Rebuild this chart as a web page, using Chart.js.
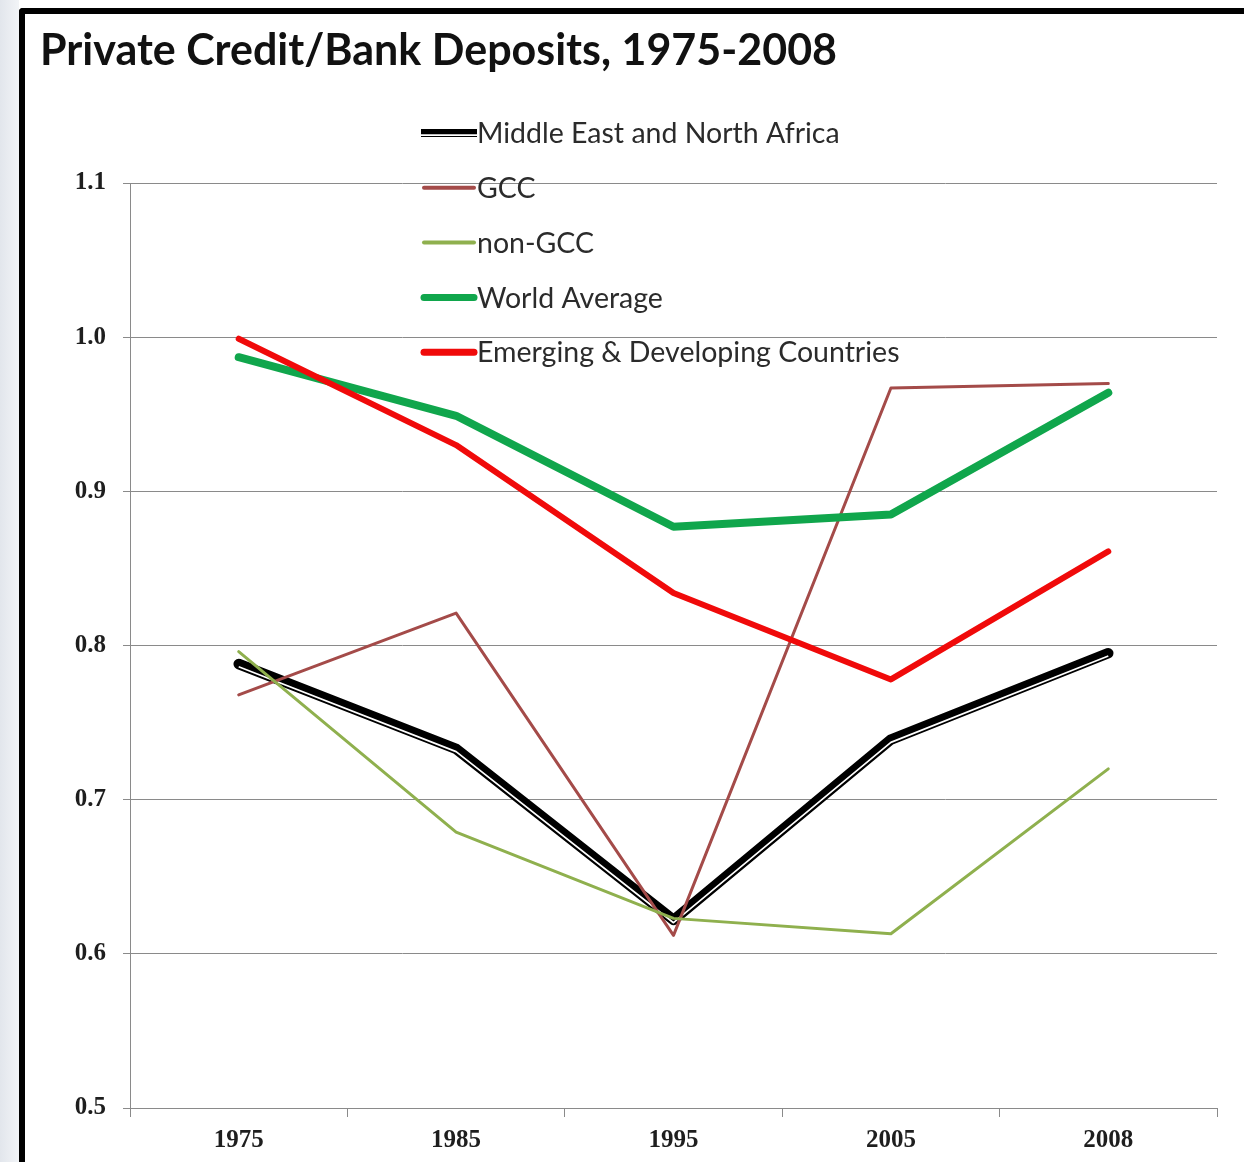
<!DOCTYPE html>
<html>
<head>
<meta charset="utf-8">
<title>Private Credit/Bank Deposits, 1975-2008</title>
<script src="https://cdn.jsdelivr.net/npm/chart.js@4.4.1/dist/chart.umd.min.js"></script>
<style>
  html, body { margin: 0; padding: 0; background: #fff; }
  body { width: 1244px; height: 1162px; position: relative; overflow: hidden; }
  .edge { position: absolute; left: 0; top: 0; width: 19px; height: 1162px; background: linear-gradient(to right, #e2e6ec, #f2f4f7); }
  .frame { position: absolute; left: 19px; top: 8px; width: 1400px; height: 1400px;
           border-top: 6px solid #000; border-left: 6px solid #000; border-top-left-radius: 4px; }
  #wrap { position: absolute; left: 0; top: 0; width: 1244px; height: 1162px; }
</style>
</head>
<body>
<div class="edge"></div>
<div class="frame"></div>
<div id="wrap"><canvas id="chart" width="1244" height="1162"></canvas></div>
<script>
// years on the x axis
const years = ['1975', '1985', '1995', '2005', '2008'];

// ratio of private credit to bank deposits
const mena     = [0.788, 0.733, 0.622, 0.739, 0.795];
const gcc      = [0.768, 0.821, 0.612, 0.967, 0.970];
const nonGcc   = [0.796, 0.679, 0.623, 0.613, 0.720];
const worldAvg = [0.987, 0.949, 0.877, 0.885, 0.964];
const emerging = [0.999, 0.930, 0.834, 0.778, 0.861];

const seriesNames = [
  'Middle East and North Africa',
  'GCC',
  'non-GCC',
  'World Average',
  'Emerging & Developing Countries'
];

const yMin = 0.5, yMax = 1.1, yStep = 0.1;
const chartTitle = 'Private Credit/Bank Deposits, 1975-2008';

const AXIS_GREY = '#8a8a8a';

// MENA is drawn as a "double" line: thick black with a thin white stripe near its lower edge
function strokeStripe(ctx, pts, dy) {
  ctx.save();
  ctx.strokeStyle = '#fff';
  ctx.lineWidth = 1.7;
  ctx.lineJoin = 'round';
  ctx.beginPath();
  pts.forEach((p, i) => i ? ctx.lineTo(p.x, p.y + dy) : ctx.moveTo(p.x, p.y + dy));
  ctx.stroke();
  ctx.restore();
}

const doubleLine = {
  id: 'doubleLine',
  afterDatasetDraw(chart, args) {
    const ds = chart.data.datasets[args.index];
    if (!ds.compound) return;
    const pts = args.meta.data.map(p => ({ x: p.x, y: p.y }));
    strokeStripe(chart.ctx, pts, 2.8);
  }
};

// title and the stacked legend inside the plot
const decorations = {
  id: 'decorations',
  afterDraw(chart) {
    const ctx = chart.ctx;
    ctx.save();
    ctx.fillStyle = '#111';
    ctx.font = 'bold 43px Lato';
    ctx.textBaseline = 'alphabetic';
    ctx.textAlign = 'left';
    ctx.fillText(chartTitle, 40, 65);

    ctx.font = '28.5px Lato';
    ctx.textBaseline = 'middle';
    chart.data.datasets.forEach((ds, i) => {
      const y = 133 + i * 54.8;
      ctx.strokeStyle = ds.borderColor;
      ctx.lineWidth = ds.legendWidth;
      ctx.lineCap = ds.compound ? 'butt' : 'round';
      ctx.beginPath();
      ctx.moveTo(ds.compound ? 421 : 424, y);
      ctx.lineTo(ds.compound ? 477 : 474, y);
      ctx.stroke();
      if (ds.compound) strokeStripe(ctx, [{ x: 421, y }, { x: 477, y }], 2.2);
      ctx.fillStyle = '#2b2b2b';
      ctx.fillText(ds.label, 477, y + 1);
    });
    ctx.restore();
  }
};

const seriesValues = [mena, gcc, nonGcc, worldAvg, emerging];
const colors = ['#000000', '#a44b49', '#8fb04e', '#10a64c', '#f00a0a'];
const widths = [10.5, 3, 3, 8, 6];
const legendWidths = [8, 4, 4, 7, 7];

const ctx = document.getElementById('chart').getContext('2d');
new Chart(ctx, {
  type: 'line',
  data: {
    labels: years,
    datasets: seriesValues.map((vals, i) => ({
      label: seriesNames[i],
      data: vals,
      borderColor: colors[i],
      backgroundColor: colors[i],
      borderWidth: widths[i],
      legendWidth: legendWidths[i],
      compound: i === 0,
      pointRadius: 0,
      tension: 0,
      borderCapStyle: 'round',
      borderJoinStyle: 'round',
      fill: false,
      order: seriesValues.length - i
    }))
  },
  options: {
    responsive: false,
    animation: false,
    layout: { padding: { left: 30, right: 27, top: 183, bottom: 14 } },
    plugins: {
      legend: { display: false },
      title: { display: false },
      tooltip: { enabled: false }
    },
    scales: {
      x: {
        type: 'category',
        offset: true,
        afterFit(scale) { scale.height = 40; },
        grid: {
          offset: true,
          drawOnChartArea: false,
          drawTicks: true,
          tickLength: 9,
          color: AXIS_GREY
        },
        border: { display: true, color: AXIS_GREY, width: 1 },
        ticks: {
          color: '#1e1e1e',
          font: { family: 'Liberation Serif', size: 25, weight: 'bold' },
          padding: 9,
          maxRotation: 0
        }
      },
      y: {
        min: yMin,
        max: yMax,
        afterFit(scale) { scale.width = 100; },
        grid: {
          color: AXIS_GREY,
          lineWidth: 1,
          drawTicks: true,
          tickLength: 7
        },
        border: { display: true, color: AXIS_GREY, width: 1 },
        ticks: {
          stepSize: yStep,
          color: '#1e1e1e',
          font: { family: 'Liberation Serif', size: 25, weight: 'bold' },
          padding: 17,
          callback: v => Number(v).toFixed(1)
        }
      }
    }
  },
  plugins: [doubleLine, decorations]
});
</script>
</body>
</html>
